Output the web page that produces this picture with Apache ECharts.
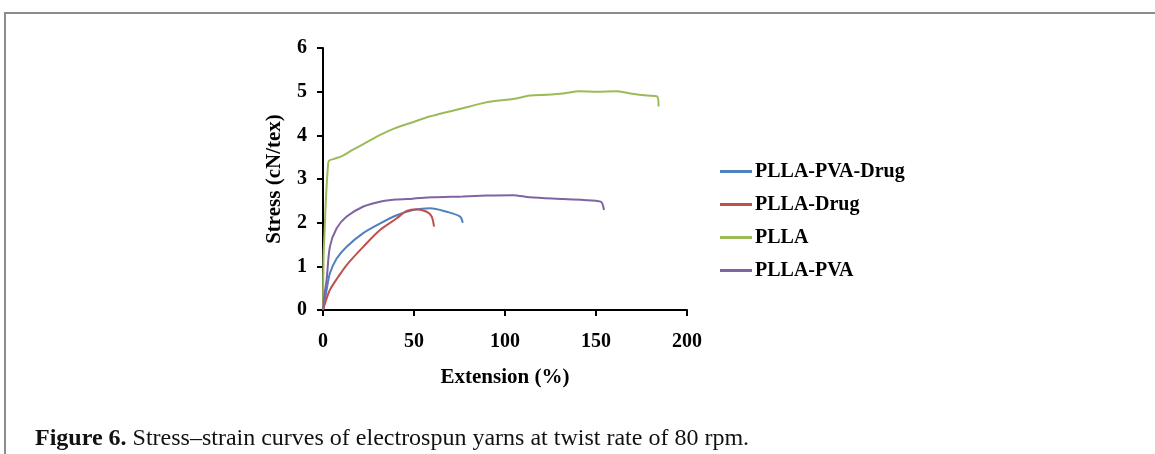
<!DOCTYPE html>
<html>
<head>
<meta charset="utf-8">
<script src="https://cdn.jsdelivr.net/npm/echarts@6/dist/echarts.min.js"></script>
<style>
    html, body { margin: 0; padding: 0; background: #fff; }
    #frame { position: absolute; left: 4px; top: 12px; width: 1160px; height: 450px;
             border-top: 2px solid #8c8c8c; border-left: 2px solid #8c8c8c; }
    #chart { position: absolute; left: 0; top: 0; width: 1155px; height: 454px; }
</style>
</head>
<body>
<div id="frame"></div>
<div id="chart"></div>
<script>
// 数据 (Extension %, Stress cN/tex)
var seriesNames = ['PLLA-PVA-Drug', 'PLLA-Drug', 'PLLA', 'PLLA-PVA'];
var xTicks = [0, 50, 100, 150, 200];
var yTicks = [0, 1, 2, 3, 4, 5, 6];

var pvaDrugExt = [0, 2, 3.8, 7.5, 13, 22.1, 31.3, 40.5, 49.6, 58.8, 68, 75.3, 76.8];
var pvaDrugStress = [0, 0.46, 0.84, 1.18, 1.45, 1.76, 1.98, 2.17, 2.29, 2.33, 2.25, 2.14, 2.0];

var drugExt = [0, 1.1, 3.8, 8.4, 13, 22.2, 31.3, 40.5, 46, 51.5, 57, 59.7, 61];
var drugStress = [0, 0.15, 0.46, 0.76, 1.03, 1.45, 1.83, 2.10, 2.27, 2.31, 2.25, 2.14, 1.91];

var pllaExt = [0, 0.3, 0.9, 1.65, 2.8, 3.3, 6, 10.7, 16, 21.7, 30.9, 40, 49.3, 58.5, 67.6, 76.8, 86, 95.2, 104.4, 113.6, 122.8, 132, 141, 150.4, 161, 168.8, 178, 183.5, 184.4];
var pllaStress = [0, 1.2, 1.82, 2.58, 3.34, 3.42, 3.46, 3.53, 3.66, 3.79, 4.0, 4.17, 4.30, 4.43, 4.53, 4.62, 4.72, 4.79, 4.83, 4.91, 4.93, 4.96, 5.01, 5.0, 5.01, 4.96, 4.91, 4.89, 4.66];

var pvaExt = [0, 0.8, 2, 3.8, 7.5, 13, 22.2, 31.3, 40, 49.3, 60, 76.8, 90, 104.4, 113.6, 132, 150, 153, 154.4];
var pvaStress = [0, 0.35, 0.69, 1.45, 1.87, 2.14, 2.37, 2.48, 2.53, 2.55, 2.58, 2.60, 2.62, 2.63, 2.58, 2.54, 2.50, 2.47, 2.29];

var colors = ['#4f81bd', '#c0504d', '#9bbb59', '#8064a2'];

function pairs(xs, ys) {
    return xs.map(function (x, i) { return [x, ys[i]]; });
}

var font = '"Liberation Serif", "Times New Roman", serif';
var chart = echarts.init(document.getElementById('chart'));

var allData = [
    pairs(pvaDrugExt, pvaDrugStress),
    pairs(drugExt, drugStress),
    pairs(pllaExt, pllaStress),
    pairs(pvaExt, pvaStress)
];

var series = seriesNames.map(function (name, i) {
    return {
        name: name,
        type: 'line',
        data: allData[i],
        showSymbol: false,
        smooth: 0.3,
        lineStyle: { color: colors[i], width: 2 },
        itemStyle: { color: colors[i] }
    };
});

chart.setOption({
    animation: false,
    title: {
        text: '{b|Figure 6.} Stress\u2013strain curves of electrospun yarns at twist rate of 80 rpm.',
        left: 30,
        top: 422,
        textStyle: {
            fontFamily: font, fontSize: 24, fontWeight: 'normal', color: '#111',
            rich: { b: { fontFamily: font, fontSize: 24, fontWeight: 'bold', color: '#111' } }
        }
    },
    legend: {
        orient: 'vertical',
        left: 715,
        top: 156,
        itemWidth: 32,
        itemHeight: 3,
        itemGap: 12,
        icon: 'rect',
        data: seriesNames,
        textStyle: { fontFamily: font, fontSize: 20, fontWeight: 'bold', color: '#000', lineHeight: 21, padding: [0, 0, 0, -2] }
    },
    grid: { left: 323, top: 48, width: 364, height: 262 },
    xAxis: {
        type: 'value',
        min: xTicks[0],
        max: xTicks[xTicks.length - 1],
        interval: 50,
        name: 'Extension (%)',
        nameLocation: 'middle',
        nameGap: 57,
        nameTextStyle: { fontFamily: font, fontSize: 21, fontWeight: 'bold', color: '#000' },
        axisLine: { lineStyle: { color: '#000', width: 2 } },
        axisTick: { show: true, length: 6, lineStyle: { color: '#000', width: 2 } },
        axisLabel: { margin: 22, fontFamily: font, fontSize: 20, fontWeight: 'bold', color: '#000' },
        splitLine: { show: false }
    },
    yAxis: {
        type: 'value',
        min: yTicks[0],
        max: yTicks[yTicks.length - 1],
        interval: 1,
        name: 'Stress (cN/tex)',
        nameLocation: 'middle',
        nameGap: 38,
        nameTextStyle: { fontFamily: font, fontSize: 21, fontWeight: 'bold', color: '#000' },
        axisLine: { show: true, lineStyle: { color: '#000', width: 2 } },
        axisTick: { show: true, length: 6, lineStyle: { color: '#000', width: 2 } },
        axisLabel: { margin: 16, fontFamily: font, fontSize: 20, fontWeight: 'bold', color: '#000' },
        splitLine: { show: false }
    },
    series: series
});
</script>
</body>
</html>
